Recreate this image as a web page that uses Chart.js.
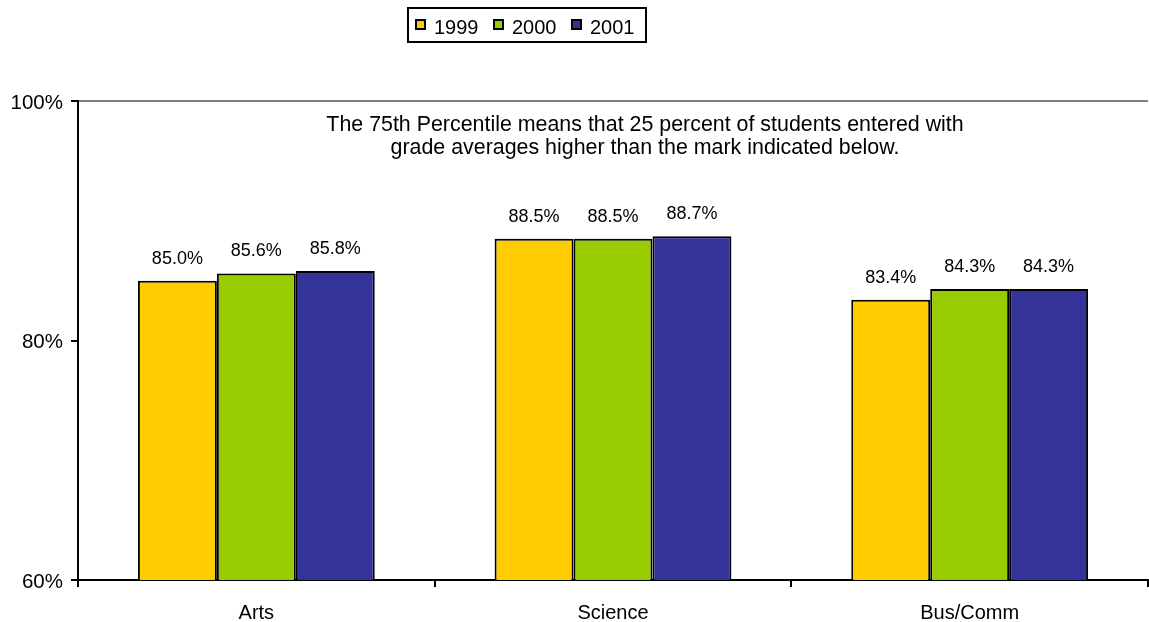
<!DOCTYPE html>
<html>
<head>
<meta charset="utf-8">
<script src="https://cdn.jsdelivr.net/npm/chart.js@4/dist/chart.umd.min.js"></script>
<style>
html,body{margin:0;padding:0;background:#fff;}
#wrap{width:1149px;height:622px;position:relative;}
</style>
</head>
<body>
<div id="wrap"><canvas id="c" width="1149" height="622"></canvas></div>
<script>
const categories = ["Arts", "Science", "Bus/Comm"];
const seriesNames = ["1999", "2000", "2001"];
const values1999 = [85.0, 88.5, 83.4];
const values2000 = [85.6, 88.5, 84.3];
const values2001 = [85.8, 88.7, 84.3];
const yTicks = [60, 80, 100];
const noteLines = [
  "The 75th Percentile means that 25 percent of students entered with",
  "grade averages higher than the mark indicated below."
];
const colors = ["#FFCC00", "#99CC00", "#333399"];

const FONT = "'Liberation Sans', Arial, sans-serif";

const overlay = {
  id: 'overlay',
  afterDatasetsDraw(chart) {
    const ctx = chart.ctx;
    ctx.save();
    // data labels
    ctx.font = "18px " + FONT;
    ctx.fillStyle = "#000";
    ctx.textAlign = "center";
    ctx.textBaseline = "middle";
    chart.data.datasets.forEach((ds, i) => {
      const meta = chart.getDatasetMeta(i);
      meta.data.forEach((bar, j) => {
        ctx.fillText(ds.data[j].toFixed(1) + "%", bar.x, bar.y - 22);
      });
    });
    // note
    ctx.font = "21.4px " + FONT;
    noteLines.forEach((t, k) => {
      ctx.fillText(t, 645, 125 + k * 23);
    });
    // legend
    ctx.font = "20px " + FONT;
    ctx.textAlign = "left";
    const lx = 408, ly = 8, lw = 238, lh = 34;
    ctx.lineWidth = 2;
    ctx.strokeStyle = "#000";
    ctx.strokeRect(lx, ly, lw, lh);
    let x = 416;
    chart.data.datasets.forEach((ds, i) => {
      ctx.fillStyle = ds.backgroundColor;
      ctx.fillRect(x, 20, 9, 9);
      ctx.lineWidth = 2;
      ctx.strokeRect(x, 20, 9, 9);
      ctx.fillStyle = "#000";
      ctx.fillText(ds.label, x + 18, 28);
      x += 78;
    });
    ctx.restore();
  }
};

new Chart(document.getElementById('c'), {
  type: 'bar',
  data: {
    labels: categories,
    datasets: [
      { label: seriesNames[0], data: values1999, backgroundColor: colors[0] },
      { label: seriesNames[1], data: values2000, backgroundColor: colors[1] },
      { label: seriesNames[2], data: values2001, backgroundColor: colors[2] }
    ].map(d => Object.assign(d, { borderColor: "#000", borderWidth: 2, borderSkipped: false,
      categoryPercentage: 0.664, barPercentage: 1.0 }))
  },
  options: {
    responsive: false,
    animation: false,
    devicePixelRatio: 1,
    layout: { padding: { top: 101, right: 1, left: 0, bottom: 0 } },
    plugins: { legend: { display: false }, tooltip: { enabled: false } },
    scales: {
      x: {
        grid: { offset: true, drawOnChartArea: false, color: "#000", tickLength: 7, lineWidth: 2 },
        border: { color: "#000", width: 2 },
        ticks: { color: "#000", font: { family: FONT, size: 20 }, padding: 14 },
        afterFit(s) { s.height = 42; }
      },
      y: {
        min: 60, max: 100,
        afterBuildTicks(s) { s.ticks = yTicks.map(v => ({ value: v })); },
        grid: {
          color: c => (c.tick && c.tick.value === 100) ? "#808080" : "rgba(0,0,0,0)",
          tickColor: "#000", tickLength: 7, lineWidth: 2
        },
        border: { color: "#000", width: 2 },
        ticks: { color: "#000", font: { family: FONT, size: 20.5 }, padding: 8, labelOffset: 2, callback: v => v + "%" },
        afterFit(s) { s.width = 78; }
      }
    }
  },
  plugins: [overlay]
});
</script>
</body>
</html>
